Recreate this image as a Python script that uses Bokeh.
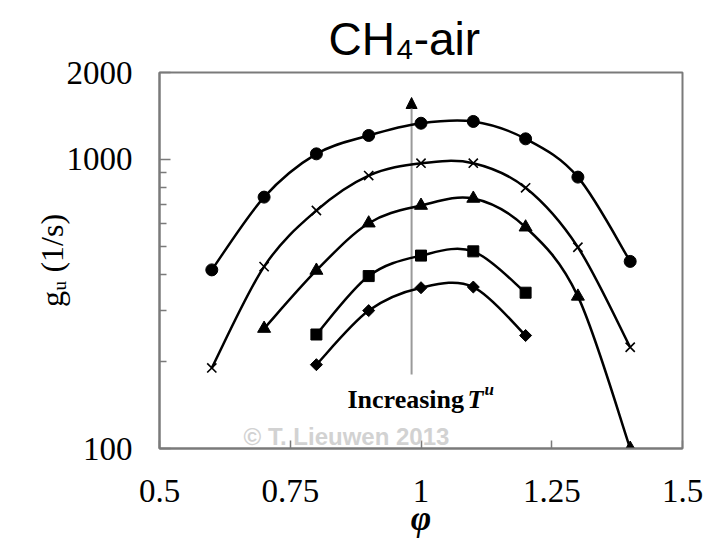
import numpy as np
from bokeh.plotting import figure
from bokeh.models import (Label, Arrow, NormalHead, FixedTicker, Title,
                          CustomJSTickFormatter, ColumnDataSource, Range1d)
from bokeh.embed import file_html
from bokeh.resources import INLINE

# ---------------- data ----------------
phi_circle = [0.6, 0.7, 0.8, 0.9, 1.0, 1.1, 1.2, 1.3, 1.4]
g_circle = [415, 741, 1046, 1211, 1335, 1354, 1179, 869, 444]

phi_cross = [0.6, 0.7, 0.8, 0.9, 1.0, 1.1, 1.2, 1.3, 1.4]
g_cross = [190, 426, 666, 880, 971, 971, 798, 497, 224]

phi_tri = [0.7, 0.8, 0.9, 1.0, 1.1, 1.2, 1.3, 1.4]
g_tri = [260, 413, 602, 693, 733, 583, 336, 100]

phi_sq = [0.8, 0.9, 1.0, 1.1, 1.2]
g_sq = [248, 395, 465, 481, 346]

phi_dia = [0.8, 0.9, 1.0, 1.1, 1.2]
g_dia = [195, 300, 360, 362, 246]

x_ticks = [0.5, 0.75, 1.0, 1.25, 1.5]
y_ticks = [100, 1000, 2000]
y_minor = [200, 300, 400, 500, 600, 700, 800, 900]

X_LO, X_HI = 0.5, 1.5
Y_LO, Y_HI = 100, 2000

# ---------------- layout ----------------
W, H = 717, 546
L, R, T, B = 159, 682, 72, 448

SANS = "Liberation Sans"
SERIF = "Liberation Serif"

p = figure(width=W, height=H, output_backend="svg", toolbar_location=None,
           y_axis_type="log", x_range=Range1d(X_LO, X_HI),
           y_range=Range1d(Y_LO, Y_HI),
           min_border_left=L, min_border_right=W - R,
           min_border_top=T, min_border_bottom=H - B)
p.title.visible = False
p.grid.visible = False
p.background_fill_color = "white"
p.border_fill_color = "white"
p.outline_line_color = "#7a7a7a"
p.outline_line_width = 2

# title in the top panel
p.add_layout(Title(text="CH\u2084-air", align="left", offset=169,
                   text_font=SANS, text_font_size="46px",
                   text_font_style="normal", text_color="black",
                   standoff=15), "above")

fmt = CustomJSTickFormatter(code="return String(tick);")

xa = p.xaxis[0]
xa.ticker = FixedTicker(ticks=x_ticks, minor_ticks=[])
xa.formatter = fmt
xa.axis_line_color = "#7a7a7a"
xa.axis_line_width = 2
xa.major_tick_in = 8
xa.major_tick_out = 0
xa.major_tick_line_color = "#7a7a7a"
xa.major_tick_line_width = 1.5
xa.minor_tick_line_color = None
xa.major_label_text_font = SERIF
xa.major_label_text_font_size = "33px"
xa.major_label_text_color = "black"
xa.major_label_standoff = 31
xa.axis_label = "\u03c6"
xa.axis_label_text_font = SERIF
xa.axis_label_text_font_size = "35px"
xa.axis_label_text_font_style = "bold italic"
xa.axis_label_text_color = "black"
xa.axis_label_standoff = -6

ya = p.yaxis[0]
ya.ticker = FixedTicker(ticks=y_ticks, minor_ticks=y_minor)
ya.formatter = fmt
ya.axis_line_color = "#7a7a7a"
ya.axis_line_width = 2
ya.major_tick_in = 11
ya.major_tick_out = 0
ya.minor_tick_in = 7
ya.minor_tick_out = 0
ya.major_tick_line_color = "#7a7a7a"
ya.minor_tick_line_color = "#7a7a7a"
ya.major_tick_line_width = 1.5
ya.minor_tick_line_width = 1.5
ya.major_label_text_font = SERIF
ya.major_label_text_font_size = "33px"
ya.major_label_text_color = "black"
ya.major_label_standoff = 27
ya.axis_label = "g\u1d64 (1/s)"
ya.axis_label_text_font = SERIF
ya.axis_label_text_font_size = "32px"
ya.axis_label_text_font_style = "normal"
ya.axis_label_text_color = "black"
ya.axis_label_standoff = -6


# pixel -> data helpers for annotation placement inside the frame
def X(px):
    return X_LO + (px - L) / (R - L) * (X_HI - X_LO)


def Y(py):
    a, b = np.log10(Y_LO), np.log10(Y_HI)
    return float(10 ** (a + (B - py) / (B - T) * (b - a)))


# ---------------- arrow (behind curves) ----------------
arrow = Arrow(end=NormalHead(size=11, fill_color="black", line_color="black",
                             line_width=1),
              x_start=0.982, y_start=Y(374), x_end=0.982, y_end=Y(97),
              line_color="#9a9a9a", line_width=2, level="underlay")
p.add_layout(arrow)


# ---------------- smooth curves (Bezier through data points) ----------------
def bez_source(xs, ys):
    xs = np.asarray(xs, float)
    ly = np.log10(np.asarray(ys, float))
    n = len(xs)
    d = dict(x0=[], y0=[], x1=[], y1=[], cx0=[], cy0=[], cx1=[], cy1=[])
    for i in range(n - 1):
        a = max(i - 1, 0)
        b = min(i + 2, n - 1)
        cx0 = xs[i] + (xs[i + 1] - xs[a]) / 6
        cy0 = ly[i] + (ly[i + 1] - ly[a]) / 6
        cx1 = xs[i + 1] - (xs[b] - xs[i]) / 6
        cy1 = ly[i + 1] - (ly[b] - ly[i]) / 6
        d["x0"].append(xs[i]); d["y0"].append(10 ** ly[i])
        d["x1"].append(xs[i + 1]); d["y1"].append(10 ** ly[i + 1])
        d["cx0"].append(cx0); d["cy0"].append(10 ** cy0)
        d["cx1"].append(cx1); d["cy1"].append(10 ** cy1)
    return ColumnDataSource(d)


series = [
    (phi_circle, g_circle, dict(marker="circle", size=12)),
    (phi_cross, g_cross, dict(marker="x", size=13, line_width=1.6)),
    (phi_tri, g_tri, dict(marker="triangle", size=13)),
    (phi_sq, g_sq, dict(marker="square", size=11)),
    (phi_dia, g_dia, dict(marker="square", size=8.5, angle=np.pi / 4)),
]

for xs, ys, mk in series:
    p.bezier(x0="x0", y0="y0", x1="x1", y1="y1", cx0="cx0", cy0="cy0",
             cx1="cx1", cy1="cy1", source=bez_source(xs, ys),
             line_color="black", line_width=2.5)

for xs, ys, mk in series:
    p.scatter(xs, ys, fill_color="black", line_color="black", **mk)


# ---------------- texts inside the frame ----------------
def add_label(px, py, text, font, size, style="normal", color="black",
              align="left"):
    p.add_layout(Label(x=X(px), y=Y(py), text=text, text_font=font,
                       text_font_size=f"{size}px", text_font_style=style,
                       text_color=color, text_align=align,
                       text_baseline="alphabetic"))


# watermark
add_label(346, 436, "\u00a9 T. Lieuwen 2013", SANS, 24, style="bold",
          color="#d2d2d2", align="center")

# Increasing T^u
add_label(347, 399, "Increasing", SERIF, 26, style="bold")
add_label(467, 399, "T", SERIF, 26, style="bold italic")
add_label(484, 389, "u", SERIF, 17, style="bold italic")

open("out.html", "w").write(file_html(p, INLINE))
